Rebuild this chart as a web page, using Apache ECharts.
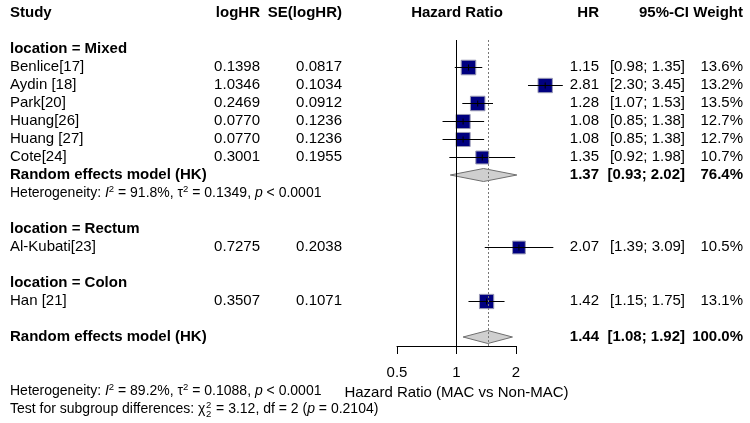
<!DOCTYPE html>
<html>
<head>
<meta charset="utf-8">
<script src="https://cdn.jsdelivr.net/npm/echarts@6/dist/echarts.min.js"></script>
<style>
  html, body { margin: 0; padding: 0; background: #fff; }
  #chart { width: 750px; height: 423px; }
</style>
</head>
<body>
<div id="chart"></div>
<script>
// ---- data ----
const studyNames = ['Benlice[17]', 'Aydin [18]', 'Park[20]', 'Huang[26]', 'Huang [27]', 'Cote[24]', 'Al-Kubati[23]', 'Han [21]']
const logHR = [0.1398, 1.0346, 0.2469, 0.0770, 0.0770, 0.3001, 0.7275, 0.3507]
const seLogHR = [0.0817, 0.1034, 0.0912, 0.1236, 0.1236, 0.1955, 0.2038, 0.1071]
const hrValues = [1.15, 2.81, 1.28, 1.08, 1.08, 1.35, 2.07, 1.42]
const ciLower = [0.98, 2.30, 1.07, 0.85, 0.85, 0.92, 1.39, 1.15]
const ciUpper = [1.35, 3.45, 1.53, 1.38, 1.38, 1.98, 3.09, 1.75]
const weightPct = [13.6, 13.2, 13.5, 12.7, 12.7, 10.7, 10.5, 13.1]
const studyRows = [3, 4, 5, 6, 7, 8, 13, 16]

const groupLabels = ['location = Mixed', 'location = Rectum', 'location = Colon']
const groupRows = [2, 12, 15]

const pooledHR = [1.37, 1.44]
const pooledLower = [0.93, 1.08]
const pooledUpper = [2.02, 1.92]
const pooledWeight = [76.4, 100.0]
const pooledRows = [9, 18]

const hetI2 = [91.8, 89.2]
const hetTau2 = ['0.1349', '0.1088']
const hetP = ['< 0.0001', '< 0.0001']
const subgroupChi2 = '3.12'
const subgroupDf = 2
const subgroupP = '0.2104'

const xTicks = [0.5, 1, 2]

// ---- layout / style ----
const FONT = '"Liberation Sans", Arial, sans-serif'
const FS = 15
const FS_HET = 14
const colStudy = 10, colLogHR = 260, colSE = 342, colPlot = 457, colHR = 599, colCI = 685, colWeight = 743

const rich = {
  it: { fontStyle: 'italic', fontSize: FS_HET, fontFamily: FONT },
  sup: { fontSize: 9.5, fontFamily: FONT, padding: [0, 0, 8, 0] }
}

const fmtCI = (lo, hi) => '[' + lo.toFixed(2) + '; ' + hi.toFixed(2) + ']'
const hetText = (i) => 'Heterogeneity: {it|I}{sup|2} = ' + hetI2[i].toFixed(1) + '%, τ{sup|2} = ' + hetTau2[i] + ', {it|p} ' + hetP[i]

// text lines of the table, one entry per row
const tableRows = []
tableRows.push({ row: 0, cells: [
  { text: 'Study', x: colStudy, align: 'left', bold: true },
  { text: 'logHR', x: colLogHR, align: 'right', bold: true },
  { text: 'SE(logHR)', x: colSE, align: 'right', bold: true },
  { text: 'Hazard Ratio', x: colPlot, align: 'center', bold: true },
  { text: 'HR', x: colHR, align: 'right', bold: true },
  { text: '95%-CI', x: colCI + 4, align: 'right', bold: true },
  { text: 'Weight', x: colWeight, align: 'right', bold: true }
] })
groupLabels.forEach((g, i) => {
  tableRows.push({ row: groupRows[i], cells: [{ text: g, x: colStudy, align: 'left', bold: true }] })
})
studyNames.forEach((s, i) => {
  tableRows.push({ row: studyRows[i], cells: [
    { text: s, x: colStudy, align: 'left' },
    { text: logHR[i].toFixed(4), x: colLogHR, align: 'right' },
    { text: seLogHR[i].toFixed(4), x: colSE, align: 'right' },
    { text: hrValues[i].toFixed(2), x: colHR, align: 'right' },
    { text: fmtCI(ciLower[i], ciUpper[i]), x: colCI, align: 'right' },
    { text: weightPct[i].toFixed(1) + '%', x: colWeight, align: 'right' }
  ] })
})
pooledRows.forEach((r, i) => {
  tableRows.push({ row: r, cells: [
    { text: 'Random effects model (HK)', x: colStudy, align: 'left', bold: true },
    { text: pooledHR[i].toFixed(2), x: colHR, align: 'right', bold: true },
    { text: fmtCI(pooledLower[i], pooledUpper[i]), x: colCI, align: 'right', bold: true },
    { text: pooledWeight[i].toFixed(1) + '%', x: colWeight, align: 'right', bold: true }
  ] })
})
tableRows.push({ row: 10, cells: [{ text: hetText(0), x: colStudy, align: 'left', size: FS_HET }] })

// text width helper for the stacked chi-square index
const ctx = document.createElement('canvas').getContext('2d')
const measure = (txt, size) => { ctx.font = size + 'px "Liberation Sans"'; return ctx.measureText(txt).width }
const testPrefix = 'Test for subgroup differences: χ'
const chiX = 10 + measure(testPrefix, FS_HET)

const chart = echarts.init(document.getElementById('chart'))

chart.setOption({
  animation: false,
  grid: { left: 397, right: 234, top: 40, bottom: 77 },
  xAxis: {
    type: 'log',
    logBase: 2,
    min: xTicks[0],
    max: xTicks[xTicks.length - 1],
    splitLine: { show: false },
    axisLine: { show: true, lineStyle: { color: '#000', width: 1 } },
    axisTick: { show: true, length: 8, lineStyle: { color: '#000' } },
    axisLabel: { color: '#000', fontSize: FS, fontFamily: FONT, margin: 19, formatter: v => String(+v.toFixed(2)) },
    name: 'Hazard Ratio (MAC vs Non-MAC)',
    nameLocation: 'middle',
    nameGap: 38,
    nameTextStyle: { color: '#000', fontSize: FS, fontFamily: FONT }
  },
  yAxis: { type: 'value', inverse: true, min: 1.5, max: 18.5, show: false },
  graphic: [
    { type: 'text', x: 10, y: 391, style: { text: hetText(1), rich: rich, fill: '#000', fontSize: FS_HET, fontFamily: FONT, verticalAlign: 'middle' } },
    { type: 'text', x: 10, y: 409, style: { text: testPrefix, fill: '#000', fontSize: FS_HET, fontFamily: FONT, verticalAlign: 'middle' } },
    { type: 'text', x: chiX + 0.5, y: 405, style: { text: String(subgroupDf), fill: '#000', fontSize: 9.5, fontFamily: FONT, verticalAlign: 'middle' } },
    { type: 'text', x: chiX + 0.5, y: 414, style: { text: String(subgroupDf), fill: '#000', fontSize: 9.5, fontFamily: FONT, verticalAlign: 'middle' } },
    { type: 'text', x: chiX + measure('2', 9.5) + 1.5, y: 409, style: { text: ' = ' + subgroupChi2 + ', df = ' + subgroupDf + ' ({it|p} = ' + subgroupP + ')', rich: rich, fill: '#000', fontSize: FS_HET, fontFamily: FONT, verticalAlign: 'middle' } }
  ],
  series: [
    {
      // reference lines: no effect (solid) and overall estimate (dotted)
      type: 'scatter',
      data: [],
      silent: true,
      markLine: {
        silent: true,
        symbol: ['none', 'none'],
        label: { show: false },
        data: [
          { xAxis: 1, lineStyle: { color: '#000', width: 1, type: 'solid' } },
          { xAxis: pooledHR[1], lineStyle: { color: '#777', width: 1, type: [2, 2] } }
        ]
      }
    },
    {
      // pooled diamonds
      type: 'custom',
      clip: false,
      silent: true,
      data: pooledRows.map((r, i) => [pooledHR[i], r, pooledLower[i], pooledUpper[i]]),
      renderItem: (params, api) => {
        const est = api.coord([api.value(0), api.value(1)])
        const lo = api.coord([api.value(2), api.value(1)])
        const hi = api.coord([api.value(3), api.value(1)])
        const h = 6.5
        return {
          type: 'polygon',
          shape: { points: [[lo[0], est[1]], [est[0], est[1] - h], [hi[0], est[1]], [est[0], est[1] + h]] },
          style: { fill: '#cfcfcf', stroke: '#6e6e6e', lineWidth: 1 }
        }
      }
    },
    {
      // study squares and confidence intervals
      type: 'custom',
      clip: false,
      silent: true,
      data: studyRows.map((r, i) => [hrValues[i], r, ciLower[i], ciUpper[i], weightPct[i]]),
      renderItem: (params, api) => {
        const est = api.coord([api.value(0), api.value(1)])
        const lo = api.coord([api.value(2), api.value(1)])
        const hi = api.coord([api.value(3), api.value(1)])
        const side = 3.95 * Math.sqrt(api.value(4))
        const y = est[1] + 0.5
        return {
          type: 'group',
          children: [
            { type: 'rect', shape: { x: est[0] - side / 2, y: y - side / 2, width: side, height: side }, style: { fill: '#000080', stroke: '#9a9ab4', lineWidth: 1 } },
            { type: 'line', shape: { x1: lo[0], y1: y, x2: hi[0], y2: y }, style: { stroke: '#000', lineWidth: 1 } },
            { type: 'line', shape: { x1: est[0], y1: y - 3, x2: est[0], y2: y + 3 }, style: { stroke: '#000', lineWidth: 1 } }
          ]
        }
      }
    },
    {
      // table text, placed on the same row scale as the marks
      type: 'custom',
      clip: false,
      silent: true,
      data: tableRows.map(r => [1, r.row]),
      renderItem: (params, api) => {
        const r = tableRows[params.dataIndex]
        const y = api.coord([1, api.value(1)])[1]
        return {
          type: 'group',
          children: r.cells.map(c => ({
            type: 'text',
            x: c.x,
            y: y,
            style: {
              text: c.text,
              rich: rich,
              fill: '#000',
              fontSize: c.size || FS,
              fontFamily: FONT,
              fontWeight: c.bold ? 'bold' : 'normal',
              align: c.align,
              verticalAlign: 'middle'
            }
          }))
        }
      }
    }
  ]
})
</script>
</body>
</html>
